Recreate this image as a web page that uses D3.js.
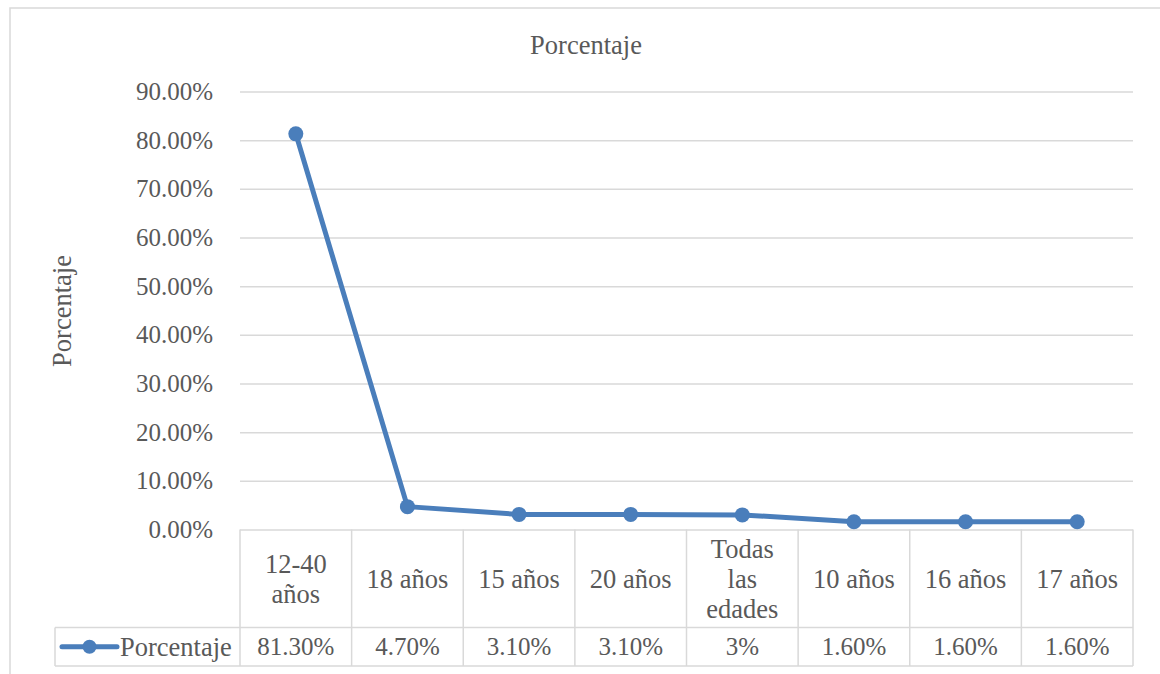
<!DOCTYPE html>
<html>
<head>
<meta charset="utf-8">
<script src="https://cdn.jsdelivr.net/npm/d3@7/dist/d3.min.js"></script>
<style>
  html, body { margin: 0; padding: 0; background: #fff; }
  svg { display: block; }
  svg text { font-family: "Liberation Serif", "Times New Roman", serif; }
</style>
</head>
<body>
<svg id="chart" width="1160" height="674"></svg>
<script>
// Age groups shown along the x axis (lines of each table header cell)
const categories = [
  ["12-40", "años"],
  ["18 años"],
  ["15 años"],
  ["20 años"],
  ["Todas", "las", "edades"],
  ["10 años"],
  ["16 años"],
  ["17 años"]
];
// Share of each age group (fraction)
const values = [0.813, 0.047, 0.031, 0.031, 0.03, 0.016, 0.016, 0.016];
// Values as printed in the data table
const valueLabels = ["81.30%", "4.70%", "3.10%", "3.10%", "3%", "1.60%", "1.60%", "1.60%"];
const yTicks = [0, 0.1, 0.2, 0.3, 0.4, 0.5, 0.6, 0.7, 0.8, 0.9];
const seriesName = "Porcentaje";
const chartTitle = "Porcentaje";
const yTitle = "Porcentaje";

const svg = d3.select("#chart");
const serif = "Liberation Serif, Times New Roman, serif";
const textColor = "#595959";
const gridColor = "#d9d9d9";
const lineColor = "#4a7ebb";
const numSize = 25;
const labelSize = 26.5;

const plot = { left: 240, right: 1133, top: 91.5, bottom: 529.5 };
const tableCatBottom = 627.5;
const tableValBottom = 666;
const legendLeft = 55;

const x = d3.scaleBand()
  .domain(d3.range(categories.length))
  .range([plot.left, plot.right])
  .padding(0);
const y = d3.scaleLinear().domain([0, 0.9]).range([plot.bottom, plot.top]);

// Outer chart frame
svg.append("rect")
  .attr("x", 10).attr("y", 8).attr("width", 1170).attr("height", 700)
  .attr("fill", "none").attr("stroke", gridColor).attr("stroke-width", 1.5);

// Title
svg.append("text")
  .attr("x", 586).attr("y", 45)
  .attr("text-anchor", "middle").attr("dominant-baseline", "central")
  .attr("font-family", serif)
  .attr("fill", textColor).attr("font-size", labelSize)
  .text(chartTitle);

// Y axis with gridlines
const yAxis = d3.axisLeft(y)
  .tickValues(yTicks)
  .tickFormat(d3.format(".2%"))
  .tickSize(-(plot.right - plot.left))
  .tickPadding(27);
const gy = svg.append("g")
  .attr("transform", `translate(${plot.left},0)`)
  .call(yAxis)
  .attr("font-family", serif);
gy.select(".domain").remove();
gy.selectAll(".tick line").attr("stroke", gridColor).attr("stroke-width", 1.5);
gy.selectAll(".tick text")
  .attr("fill", textColor)
  .attr("font-size", numSize)
  .attr("font-family", serif);

// Y axis title
svg.append("text")
  .attr("transform", "translate(62,311) rotate(-90)")
  .attr("text-anchor", "middle").attr("dominant-baseline", "central")
  .attr("font-family", serif)
  .attr("fill", textColor).attr("font-size", labelSize)
  .text(yTitle);

// Data table grid
const table = svg.append("g").attr("stroke", gridColor).attr("stroke-width", 1.5);
const bounds = d3.range(categories.length).map(i => x(i)).concat([plot.right]);
bounds.forEach(b => {
  table.append("line")
    .attr("x1", b).attr("x2", b)
    .attr("y1", plot.bottom).attr("y2", tableValBottom);
});
table.append("line")
  .attr("x1", legendLeft).attr("x2", legendLeft)
  .attr("y1", tableCatBottom).attr("y2", tableValBottom);
[tableCatBottom, tableValBottom].forEach(yy => {
  table.append("line")
    .attr("x1", legendLeft).attr("x2", plot.right)
    .attr("y1", yy).attr("y2", yy);
});

// Category labels (header row)
const lineGap = 30;
const catMid = (plot.bottom + tableCatBottom) / 2;
categories.forEach((lines, i) => {
  const cx = x(i) + x.bandwidth() / 2;
  const t = svg.append("text")
    .attr("text-anchor", "middle")
    .attr("font-family", serif)
    .attr("fill", textColor).attr("font-size", labelSize);
  lines.forEach((ln, k) => {
    t.append("tspan")
      .attr("x", cx)
      .attr("y", catMid + (k - (lines.length - 1) / 2) * lineGap)
      .attr("dominant-baseline", "central")
      .text(ln);
  });
});

// Value row
const valMid = (tableCatBottom + tableValBottom) / 2;
svg.append("g").selectAll("text")
  .data(valueLabels)
  .join("text")
  .attr("x", (d, i) => x(i) + x.bandwidth() / 2)
  .attr("y", valMid)
  .attr("text-anchor", "middle").attr("dominant-baseline", "central")
  .attr("font-family", serif)
  .attr("fill", textColor).attr("font-size", numSize)
  .text(d => d);

// Legend key in the value row
svg.append("line")
  .attr("x1", 62).attr("x2", 117).attr("y1", valMid).attr("y2", valMid)
  .attr("stroke", lineColor).attr("stroke-width", 5).attr("stroke-linecap", "round");
svg.append("circle")
  .attr("cx", 89.5).attr("cy", valMid).attr("r", 7)
  .attr("fill", lineColor);
svg.append("text")
  .attr("x", 120).attr("y", valMid)
  .attr("dominant-baseline", "central")
  .attr("font-family", serif)
  .attr("fill", textColor).attr("font-size", labelSize)
  .text(seriesName);

// Series line and markers
const line = d3.line()
  .x((d, i) => x(i) + x.bandwidth() / 2)
  .y(d => y(d));
svg.append("path")
  .datum(values)
  .attr("d", line)
  .attr("fill", "none")
  .attr("stroke", lineColor)
  .attr("stroke-width", 5)
  .attr("stroke-linejoin", "round")
  .attr("stroke-linecap", "round");
svg.append("g").selectAll("circle")
  .data(values)
  .join("circle")
  .attr("cx", (d, i) => x(i) + x.bandwidth() / 2)
  .attr("cy", d => y(d))
  .attr("r", 7.5)
  .attr("fill", lineColor);
</script>
</body>
</html>
